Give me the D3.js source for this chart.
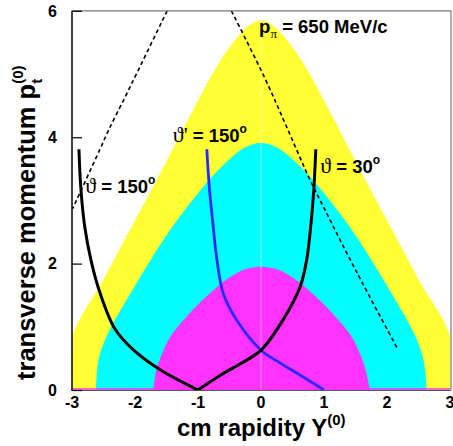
<!DOCTYPE html>
<html><head><meta charset="utf-8">
<script src="https://cdn.jsdelivr.net/npm/d3@7"></script>
<style>body{margin:0;background:#fff}svg{display:block}</style>
</head><body><svg id="c" width="453" height="446"></svg>
<script>
// ---- data ----
const xTicks = [-3,-2,-1,0,1,2,3];
const yTicks = [0,2,4,6];
const yellowRegion = [[-3,0],[-3,0.82],[-2.5,1.75],[-2,2.68],[-1.5,3.62],[-1,4.58],[-0.8,4.95],[-0.6,5.28],[-0.4,5.55],[-0.2,5.76],[0,5.85],[0.2,5.76],[0.4,5.55],[0.6,5.28],[0.8,4.95],[1,4.58],[1.5,3.62],[2,2.68],[2.5,1.75],[3,0.84],[3,0]];
const cyanRegion = [[-2.62,0],[-2.58,0.47],[-2.45,0.85],[-2,1.65],[-1.5,2.45],[-1.13,2.95],[-0.8,3.35],[-0.5,3.65],[-0.25,3.84],[0,3.91],[0.25,3.84],[0.5,3.65],[0.8,3.35],[1.13,2.95],[1.5,2.45],[2,1.65],[2.45,0.85],[2.58,0.47],[2.63,0]];
const magentaRegion = [[-1.71,0],[-1.66,0.32],[-1.58,0.55],[-1.44,0.84],[-1.1,1.25],[-0.8,1.54],[-0.5,1.78],[-0.25,1.91],[0,1.95],[0.25,1.91],[0.5,1.78],[0.8,1.54],[1.1,1.25],[1.44,0.84],[1.58,0.55],[1.66,0.32],[1.73,0]];
const theta150 = [[-2.89,3.81],[-2.86,3.2],[-2.8,2.6],[-2.7,2.06],[-2.56,1.55],[-2.32,0.97],[-2.03,0.64],[-1.6,0.32],[-1,0]];
const theta30 = [[-1,0],[-0.6,0.26],[-0.3,0.43],[0,0.63],[0.35,1.11],[0.62,1.63],[0.725,2.06],[0.8,2.7],[0.84,3.2],[0.87,3.81]];
const thetaPrime150 = [[-0.86,3.81],[-0.82,3.2],[-0.77,2.7],[-0.7,2.06],[-0.6,1.53],[-0.39,1.11],[0,0.63],[0.3,0.43],[0.6,0.25],[1.0,0]];
const dashedLeft = [[-1.49,6.0],[-2.13,4.69],[-2.42,4.11],[-2.56,3.8],[-2.99,2.87]];
const dashedRight = [[-0.47,6.0],[0.063,4.93],[0.43,4.11],[0.78,3.32],[1.0,2.88],[1.5,1.9],[2.18,0.63]];

// ---- drawing ----
const svg = d3.select('#c');
const L=72, R=450, T=10.8, B=390;
const x = d3.scaleLinear([-3,3],[L,R]);
const y = d3.scaleLinear([0,6],[B,T]);
const SANS = "'Liberation Sans', Arial, Helvetica, sans-serif";
const SERIF = "'Liberation Serif','DejaVu Serif', serif";

svg.append('defs').append('clipPath').attr('id','clip')
  .append('rect').attr('x',L).attr('y',T).attr('width',R-L).attr('height',B-T);
const g = svg.append('g').attr('clip-path','url(#clip)');

const area = d3.line().x(d=>x(d[0])).y(d=>y(d[1])).curve(d3.curveCatmullRom.alpha(0.5));
const fills = [[yellowRegion,'#ffff33'],[cyanRegion,'#00ffff'],[magentaRegion,'#ff33ff']];
fills.forEach(([d,c])=>{ g.append('path').attr('d',area(d)+'Z').attr('fill',c); });

// faint vertical line at Y=0
g.append('line').attr('x1',x(0)).attr('x2',x(0)).attr('y1',y(0)).attr('y2',y(yellowRegion[10][1]))
  .attr('stroke','#fff').attr('stroke-opacity',0.45).attr('stroke-width',1);
// magenta strip along bottom
g.append('line').attr('x1',x(-3)).attr('x2',x(3)).attr('y1',B-1).attr('y2',B-1).attr('stroke','#ff33ff').attr('stroke-width',1.5);

const line = d3.line().x(d=>x(d[0])).y(d=>y(d[1])).curve(d3.curveCatmullRom.alpha(0.5));
[dashedLeft,dashedRight].forEach(d=>g.append('path').attr('d',line(d)).attr('fill','none')
  .attr('stroke','#000').attr('stroke-width',1.6).attr('stroke-dasharray','4,3'));
g.append('path').attr('d',line(thetaPrime150)).attr('fill','none').attr('stroke','#2a2aff').attr('stroke-width',2.8);
[theta150,theta30].forEach(d=>g.append('path').attr('d',line(d)).attr('fill','none')
  .attr('stroke','#000').attr('stroke-width',3).attr('stroke-linejoin','miter'));

// frame
svg.append('line').attr('x1',L).attr('x2',R+1).attr('y1',T).attr('y2',T).attr('stroke','#777').attr('stroke-width',1.2);
svg.append('line').attr('x1',R+1).attr('x2',R+1).attr('y1',T).attr('y2',B).attr('stroke','#777').attr('stroke-width',1.2);
svg.append('line').attr('x1',L).attr('x2',R+1).attr('y1',B+0.5).attr('y2',B+0.5).attr('stroke','#555').attr('stroke-width',1.2);
svg.append('line').attr('x1',L).attr('x2',L).attr('y1',T).attr('y2',B+1).attr('stroke','#000').attr('stroke-width',1.5);

// y axis ticks + labels
const ya = svg.append('g').attr('transform',`translate(${L},0)`)
  .call(d3.axisRight(y).tickValues(yTicks).tickSize(10).tickFormat(''));
ya.select('.domain').remove();
ya.selectAll('line').attr('stroke','#000').attr('stroke-width',1.2);
yTicks.forEach(v=>svg.append('text').attr('x',57).attr('y',y(v)).attr('dy','0.36em')
  .attr('text-anchor','end').attr('font-family',SANS).attr('font-weight','bold').attr('font-size',16).text(v));
xTicks.forEach(v=>svg.append('text').attr('x',x(v)).attr('y',408)
  .attr('text-anchor','middle').attr('font-family',SANS).attr('font-weight','bold').attr('font-size',16).text(v));

// axis titles
const xt = svg.append('text').attr('x',177).attr('y',436).attr('font-family',SANS).attr('font-weight','bold').attr('font-size',24);
xt.append('tspan').text('cm rapidity Y');
xt.append('tspan').attr('font-size',15).attr('dy',-11).text('(0)');

const yt = svg.append('text').attr('transform','translate(35,380) rotate(-90)').attr('font-family',SANS).attr('font-weight','bold').attr('font-size',25.5);
yt.append('tspan').text('transverse momentum p');
yt.append('tspan').attr('font-size',15).attr('dy',7).text('t');
yt.append('tspan').attr('font-size',15).attr('dx',-5).attr('dy',-19).text('(0)');

// annotations
function angleLabel(xp,yp,prime,val){
  const t = svg.append('text').attr('x',x(xp)).attr('y',y(yp)).attr('font-family',SANS).attr('font-weight','bold').attr('font-size',18.5);
  t.append('tspan').attr('font-family',SERIF).attr('font-weight','normal').attr('font-size',22).text('ϑ'+(prime?"'":''));
  t.append('tspan').text(' = '+val);
  t.append('tspan').attr('font-size',12).attr('dy',-9).text('o');
}
angleLabel(-2.79,3.12,false,'150');
angleLabel(-1.40,3.92,true,'150');
angleLabel(0.94,3.43,false,'30');
const pt = svg.append('text').attr('x',x(-0.03)).attr('y',y(5.65)).attr('font-family',SANS).attr('font-weight','bold').attr('font-size',18.5);
pt.append('tspan').text('p');
pt.append('tspan').attr('font-family',SERIF).attr('font-weight','normal').attr('font-size',13).attr('dy',5).text('π');
pt.append('tspan').attr('dy',-5).text(' = 650 MeV/c');
</script></body></html>
